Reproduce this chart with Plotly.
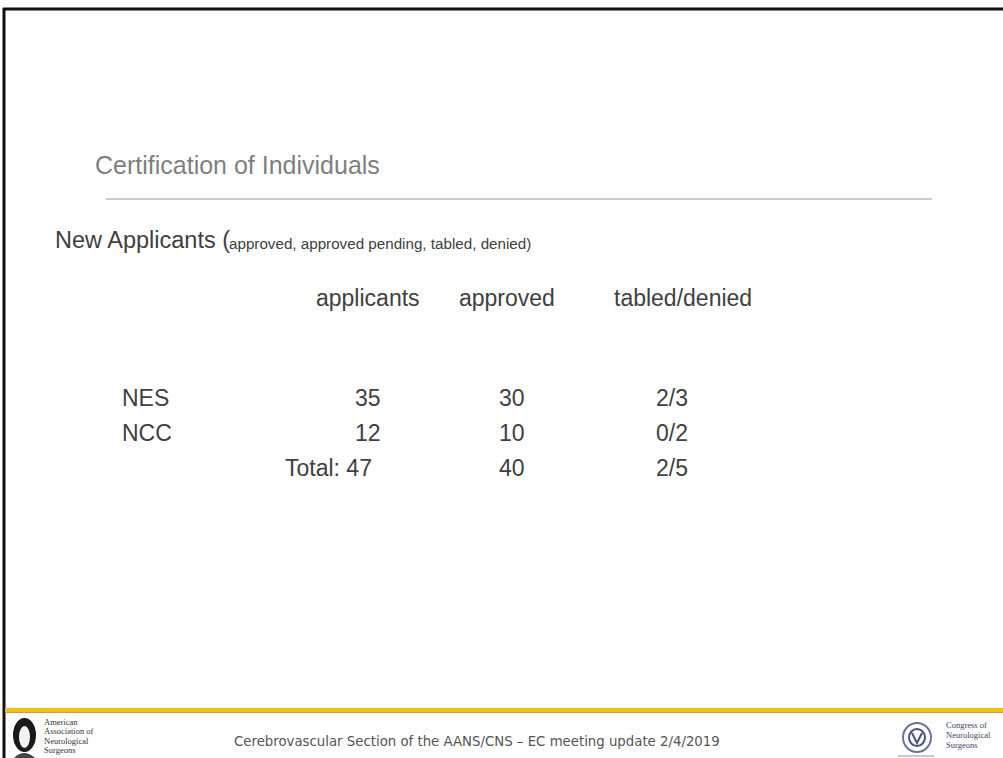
import plotly.graph_objects as go

# ---- data ----
slide_title = "Certification of Individuals"
section_title = "New Applicants"
section_note = "(approved, approved pending, tabled, denied)"
columns = ["applicants", "approved", "tabled/denied"]
categories = ["NES", "NCC"]
applicants = [35, 12]
approved = [30, 10]
tabled = [2, 0]
denied = [3, 2]
footer_text = "Cerebrovascular Section of the AANS/CNS \u2013 EC meeting update 2/4/2019"
left_org = ["American", "Association of", "Neurological", "Surgeons"]
right_org = ["Congress of", "Neurological", "Surgeons"]

W, H = 1003, 758


def px(x):
    return x / W


def py(y):
    return 1 - y / H


fig = go.Figure()
ann = []
shapes = []

SANS = "Liberation Sans, Arial, sans-serif"
TXT = "#404040"

# slide frame (top + left black edges)
shapes.append(dict(type="line", xref="paper", yref="paper", x0=px(3), x1=px(1003), y0=py(9), y1=py(9),
                   line=dict(color="#111111", width=3)))
shapes.append(dict(type="line", xref="paper", yref="paper", x0=px(4), x1=px(4), y0=py(8), y1=py(758),
                   line=dict(color="#111111", width=3)))

# title
ann.append(dict(text=slide_title, x=px(93), y=py(165), xanchor="left", yanchor="middle",
                font=dict(family=SANS, size=25, color="#7f7f7f")))
shapes.append(dict(type="line", xref="paper", yref="paper", x0=px(106), x1=px(932), y0=py(199), y1=py(199),
                   line=dict(color="#9a9a9a", width=1)))

# section heading
ann.append(dict(text=section_title + " (", x=px(53), y=py(240),
                xanchor="left", yanchor="middle", font=dict(family=SANS, size=23.5, color=TXT)))
ann.append(dict(text=section_note[1:], x=px(227), y=py(243), xanchor="left", yanchor="middle",
                font=dict(family=SANS, size=15.2, color=TXT)))

# table
col_x = [368, 507, 683]
val_x = [368, 512, 672]
row_y = [398, 433]
total_y = 468
header_y = 298
FS = 23

for c, x in zip(columns, col_x):
    ann.append(dict(text=c, x=px(x), y=py(header_y), xanchor="center", yanchor="middle",
                    font=dict(family=SANS, size=FS, color=TXT)))

for i, cat in enumerate(categories):
    y = py(row_y[i])
    ann.append(dict(text=cat, x=px(120), y=y, xanchor="left", yanchor="middle",
                    font=dict(family=SANS, size=FS, color=TXT)))
    vals = [str(applicants[i]), str(approved[i]), f"{tabled[i]}/{denied[i]}"]
    for v, x in zip(vals, val_x):
        ann.append(dict(text=v, x=px(x), y=y, xanchor="center", yanchor="middle",
                        font=dict(family=SANS, size=FS, color=TXT)))

tot_vals = [f"Total: {sum(applicants)}", str(sum(approved)), f"{sum(tabled)}/{sum(denied)}"]
ann.append(dict(text=tot_vals[0], x=px(374), y=py(total_y), xanchor="right", yanchor="middle",
                font=dict(family=SANS, size=FS, color=TXT)))
for v, x in zip(tot_vals[1:], val_x[1:]):
    ann.append(dict(text=v, x=px(x), y=py(total_y), xanchor="center", yanchor="middle",
                    font=dict(family=SANS, size=FS, color=TXT)))

# footer
shapes.append(dict(type="line", xref="paper", yref="paper", x0=px(5), x1=px(1003), y0=py(710), y1=py(710),
                   line=dict(color="#F3C10F", width=4)))
shapes.append(dict(type="line", xref="paper", yref="paper", x0=px(5), x1=px(1003), y0=py(712.5), y1=py(712.5),
                   line=dict(color="#C9A23A", width=1)))
ann.append(dict(text=footer_text, x=px(232), y=py(741), xanchor="left", yanchor="middle",
                font=dict(family="DejaVu Sans, sans-serif", size=13.3, color="#555555")))

# left logo (stylised head)
shapes.append(dict(type="circle", xref="paper", yref="paper", x0=px(13), x1=px(36), y0=py(752), y1=py(718),
                   fillcolor="#1a1a1a", line=dict(width=0)))
shapes.append(dict(type="circle", xref="paper", yref="paper", x0=px(19), x1=px(30), y0=py(748), y1=py(726),
                   fillcolor="#f2f2f2", line=dict(width=0)))
shapes.append(dict(type="path", xref="paper", yref="paper",
                   path=f"M {px(14)} {py(758)} Q {px(24)} {py(748)} {px(35)} {py(758)} Z",
                   fillcolor="#444444", line=dict(width=0)))
for k, t in enumerate(left_org):
    ann.append(dict(text=t, x=px(42), y=py(722 + k * 9.3), xanchor="left", yanchor="middle",
                    font=dict(family="Liberation Serif, serif", size=8.5, color="#333333")))

# right logo (seal)
shapes.append(dict(type="circle", xref="paper", yref="paper", x0=px(903), x1=px(931), y0=py(752), y1=py(723),
                   fillcolor="#ffffff", line=dict(color="#6c7296", width=2)))
shapes.append(dict(type="circle", xref="paper", yref="paper", x0=px(909), x1=px(925), y0=py(746), y1=py(729),
                   fillcolor="#ffffff", line=dict(color="#4b5283", width=2)))
shapes.append(dict(type="path", xref="paper", yref="paper",
                   path=f"M {px(912)} {py(733)} L {px(917)} {py(743)} L {px(922)} {py(733)}",
                   line=dict(color="#4b5283", width=2)))
shapes.append(dict(type="line", xref="paper", yref="paper", x0=px(898), x1=px(934), y0=py(756), y1=py(756),
                   line=dict(color="#8a8fb0", width=1)))
for k, t in enumerate(right_org):
    ann.append(dict(text=t, x=px(944), y=py(725 + k * 10), xanchor="left", yanchor="middle",
                    font=dict(family="Liberation Serif, serif", size=8.5, color="#3f4460")))

for a in ann:
    a.update(xref="paper", yref="paper", showarrow=False)

fig.update_layout(
    width=W, height=H,
    margin=dict(l=0, r=0, t=0, b=0),
    paper_bgcolor="white", plot_bgcolor="white",
    xaxis=dict(visible=False), yaxis=dict(visible=False),
    annotations=ann, shapes=shapes, showlegend=False,
)

fig.write_html("out.html",
               config={"displayModeBar": False},
               post_script="document.body.style.margin='0px';document.body.style.overflow='hidden';")
